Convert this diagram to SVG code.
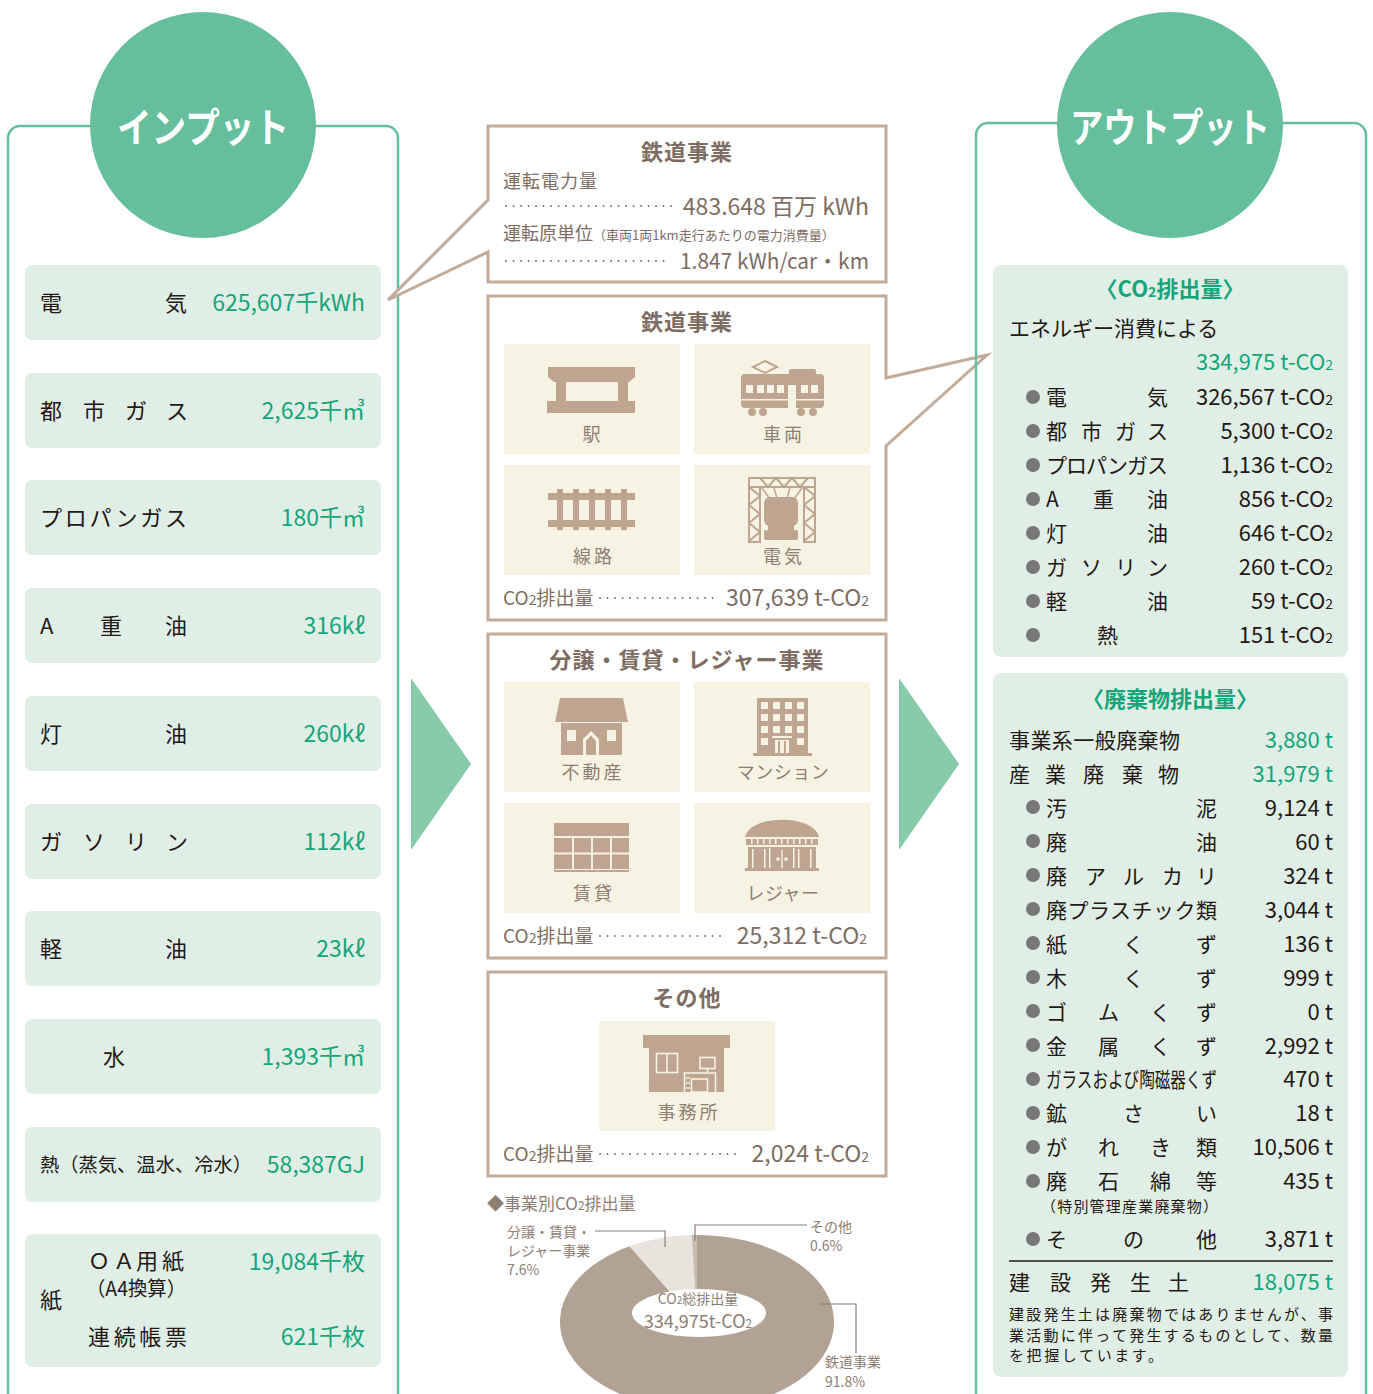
<svg xmlns="http://www.w3.org/2000/svg" width="1373" height="1394" viewBox="0 0 1373 1394">
<style>
text{font-family:"Noto Sans CJK JP","Noto Sans",sans-serif}
.lbl{font-size:22px;fill:#231815}
.lbs{font-size:20px;fill:#231815}
.lbh{font-size:19.5px;fill:#231815}
.val{font-size:23px;fill:#14a57a;text-anchor:end}
.box{fill:#e0efe6}
.frame{fill:none;stroke:#66bf9c;stroke-width:2.5}
.circ{fill:#66bf9c}
.big{font-size:40px;font-weight:bold;fill:#fff;text-anchor:middle}
.mbox{fill:#fff;stroke:#c2ab99;stroke-width:3}
.mt{font-size:22px;font-weight:bold;fill:#7d6d62;text-anchor:middle;letter-spacing:1px}
.ms{font-size:18px;fill:#7d6d62}
.mc{font-size:19px;fill:#7d6d62}
.mv{font-size:23px;fill:#7d6d62;text-anchor:end}
.mw{font-size:21.5px;fill:#7d6d62;text-anchor:end}
.tile{fill:#f7f3e3}
.tl{font-size:18px;fill:#8d7e72;text-anchor:middle;letter-spacing:3px}
.tk{font-size:18px;fill:#8d7e72;text-anchor:middle;letter-spacing:0.5px}
.ic{fill:#bfa590}
.icw{fill:#f7f3e3}
.ics{fill:none;stroke:#bfa590;stroke-width:2}
.dots{stroke:#7d6d62;stroke-width:1.8;stroke-dasharray:0.1 7.4;stroke-linecap:round}
.rl{font-size:21px;fill:#231815}
.rn{font-size:15px;fill:#231815}
.rt{font-size:15px;fill:#231815}
.rv{font-size:22px;fill:#231815;text-anchor:end}
.rg{font-size:22px;fill:#14a57a;text-anchor:end}
.rh{font-size:22px;font-weight:bold;fill:#14a57a;text-anchor:middle}
.bul{fill:#777}
.sub{font-size:14px}
.arrow{fill:#88cbaa}
.dl{font-size:14px;fill:#8d7e72}
.lead{fill:none;stroke:#8d7e72;stroke-width:1.2}
</style>

<!-- INPUT column -->
<g id="input-frame">
<rect class="frame" x="8" y="126" width="390" height="1300" rx="12"/>
<circle class="circ" cx="203" cy="125" r="113"/>
<text class="big" x="203" y="142" textLength="172" lengthAdjust="spacingAndGlyphs">インプット</text>
</g>
<g id="in-electric">
<rect class="box" x="25" y="265" width="356" height="75" rx="7"/>
<text class="lbl" x="40 165" y="311">電気</text>
<text class="val" x="365" y="311">625,607千kWh</text>
</g>
<g id="in-citygas">
<rect class="box" x="25" y="373" width="356" height="75" rx="7"/>
<text class="lbl" x="40 83 125 166" y="419">都市ガス</text>
<text class="val" x="365" y="419">2,625千㎥</text>
</g>
<g id="in-propane">
<rect class="box" x="25" y="480" width="356" height="75" rx="7"/>
<text class="lbl" x="40" y="526" textLength="147">プロパンガス</text>
<text class="val" x="365" y="526">180千㎥</text>
</g>
<g id="in-aoil">
<rect class="box" x="25" y="588" width="356" height="75" rx="7"/>
<text class="lbl" x="40 100 165" y="634">A重油</text>
<text class="val" x="365" y="634">316kℓ</text>
</g>
<g id="in-kerosene">
<rect class="box" x="25" y="696" width="356" height="75" rx="7"/>
<text class="lbl" x="40 165" y="742">灯油</text>
<text class="val" x="365" y="742">260kℓ</text>
</g>
<g id="in-gasoline">
<rect class="box" x="25" y="804" width="356" height="75" rx="7"/>
<text class="lbl" x="40 83 125 166" y="850">ガソリン</text>
<text class="val" x="365" y="850">112kℓ</text>
</g>
<g id="in-diesel">
<rect class="box" x="25" y="911" width="356" height="75" rx="7"/>
<text class="lbl" x="40 165" y="957">軽油</text>
<text class="val" x="365" y="957">23kℓ</text>
</g>
<g id="in-water">
<rect class="box" x="25" y="1019" width="356" height="75" rx="7"/>
<text class="lbl" x="103" y="1065">水</text>
<text class="val" x="365" y="1065">1,393千㎥</text>
</g>
<g id="in-heat">
<rect class="box" x="25" y="1127" width="356" height="75" rx="7"/>
<text class="lbh" x="40" y="1172" textLength="212" lengthAdjust="spacingAndGlyphs">熱（蒸気、温水、冷水）</text>
<text class="val" x="365" y="1173">58,387GJ</text>
</g>
<g id="in-paper">
<rect class="box" x="25" y="1234" width="356" height="133" rx="7"/>
<text class="lbl" x="40" y="1308">紙</text>
<text class="lbl" x="88 113 136 162" y="1269">ＯＡ用紙</text>
<text class="lbs" x="86" y="1296" textLength="100" lengthAdjust="spacingAndGlyphs">（A4換算）</text>
<text class="lbl" x="88" y="1345" textLength="99">連続帳票</text>
<text class="val" x="365" y="1270">19,084千枚</text>
<text class="val" x="365" y="1345">621千枚</text>
</g>

<!-- arrows between columns -->
<g id="connectors">
<polygon class="arrow" points="411,678 471,764 411,850"/>
<polygon class="arrow" points="899,678 959,764 899,850"/>
</g>

<!-- Middle: rail power box with callout -->
<g id="mid-rail-power">
<path class="mbox" d="M488,200 L388,300 L488,252 L488,282 L886,282 L886,126 L488,126 Z"/>
<text class="mt" x="687" y="160">鉄道事業</text>
<text class="ms" x="503" y="188" style="letter-spacing:1px">運転電力量</text>
<line class="dots" x1="506" y1="206" x2="672" y2="206"/>
<text class="mv" x="869" y="215">483.648 百万 kWh</text>
<text class="ms" x="503" y="240">運転原単位<tspan font-size="13">（車両1両1km走行あたりの電力消費量）</tspan></text>
<line class="dots" x1="506" y1="261" x2="664" y2="261"/>
<text class="mw" x="869" y="269" textLength="189" lengthAdjust="spacingAndGlyphs">1.847 kWh/car・km</text>
</g>

<!-- Middle: rail business -->
<g id="mid-rail">
<path class="mbox" d="M886,378 L987,355 L886,446 L886,620 L488,620 L488,296 L886,296 Z"/>
<text class="mt" x="687" y="330">鉄道事業</text>
<rect class="tile" x="504" y="344" width="176" height="110"/>
<rect class="tile" x="694" y="344" width="176" height="110"/>
<rect class="tile" x="504" y="465" width="176" height="110"/>
<rect class="tile" x="694" y="465" width="176" height="110"/>
<!-- station -->
<polygon class="ic" points="548,367 635,367 635,377 629,382 554,382 548,377"/>
<rect class="ic" x="556" y="381" width="10" height="21"/>
<rect class="ic" x="618" y="381" width="10" height="21"/>
<rect class="ic" x="547" y="401" width="88" height="12"/>
<!-- train -->
<polygon class="ics" points="765,361 777,367 765,373 753,367"/>
<rect class="ic" x="789" y="369" width="27" height="7" rx="2"/>
<rect class="ic" x="741" y="374" width="83" height="34" rx="4"/>
<rect class="icw" x="746" y="385" width="7" height="8"/>
<rect class="icw" x="757" y="385" width="7" height="8"/>
<rect class="icw" x="767" y="385" width="7" height="8"/>
<rect class="icw" x="777" y="385" width="7" height="8"/>
<rect class="icw" x="788" y="385" width="8" height="23"/>
<rect class="icw" x="801" y="385" width="7" height="8"/>
<rect class="icw" x="811" y="385" width="7" height="8"/>
<rect class="icw" x="741" y="399" width="83" height="1.5"/>
<circle class="ic" cx="752" cy="412" r="4"/>
<circle class="ic" cx="763" cy="412" r="4"/>
<circle class="ic" cx="801" cy="412" r="4"/>
<circle class="ic" cx="813" cy="412" r="4"/>
<!-- track -->
<rect class="ic" x="548" y="493" width="87" height="7"/>
<rect class="ic" x="548" y="520" width="87" height="7"/>
<rect class="ic" x="557" y="489" width="6" height="41"/>
<rect class="ic" x="573" y="489" width="6" height="41"/>
<rect class="ic" x="589" y="489" width="6" height="41"/>
<rect class="ic" x="605" y="489" width="6" height="41"/>
<rect class="ic" x="621" y="489" width="6" height="41"/>
<!-- electric -->
<rect class="ics" x="749" y="478" width="66" height="9"/>
<rect class="ics" x="749" y="487" width="11" height="55"/>
<rect class="ics" x="804" y="487" width="11" height="55"/>
<polyline class="ics" points="749,487 760,496 749,505 760,514 749,523 760,532 749,541"/>
<polyline class="ics" points="804,487 815,496 804,505 815,514 804,523 815,532 804,541"/>
<polyline class="ics" points="760,478 768,487 776,478 784,487 792,478 800,487 808,478"/>
<line class="ics" x1="762" y1="488" x2="770" y2="499" style="stroke-width:1.5"/>
<line class="ics" x1="774" y1="488" x2="777" y2="498" style="stroke-width:1.5"/>
<line class="ics" x1="790" y1="488" x2="787" y2="498" style="stroke-width:1.5"/>
<line class="ics" x1="802" y1="488" x2="794" y2="499" style="stroke-width:1.5"/>
<rect class="ic" x="764" y="497" width="34" height="29" rx="6"/>
<rect class="ic" x="768" y="524" width="26" height="7"/>
<rect class="ic" x="764" y="530" width="34" height="10" rx="2"/>
<text class="tl" x="593" y="441">駅</text>
<text class="tl" x="784" y="441">車両</text>
<text class="tl" x="594" y="563">線路</text>
<text class="tl" x="784" y="563">電気</text>
<text class="mc" x="503" y="605">CO<tspan class="sub">2</tspan>排出量</text>
<line class="dots" x1="600" y1="598" x2="716" y2="598"/>
<text class="mv" x="869" y="606">307,639 t-CO<tspan class="sub">2</tspan></text>
</g>

<!-- Middle: real estate / leisure -->
<g id="mid-realestate">
<rect class="mbox" x="488" y="634" width="398" height="324"/>
<text class="mt" x="687" y="668">分譲・賃貸・レジャー事業</text>
<rect class="tile" x="504" y="682" width="176" height="110"/>
<rect class="tile" x="694" y="682" width="176" height="110"/>
<rect class="tile" x="504" y="803" width="176" height="110"/>
<rect class="tile" x="694" y="803" width="176" height="110"/>
<!-- house -->
<polygon class="ic" points="560,698 623,698 628,722 555,722"/>
<rect class="ic" x="561" y="723" width="61" height="32"/>
<rect class="icw" x="567" y="730" width="9" height="11"/>
<rect class="icw" x="607" y="730" width="9" height="11"/>
<path class="icw" d="M583,755 L583,739 L591,731 L599,739 L599,755 L596,755 L596,741 L591,735.5 L586,741 L586,755 Z"/>
<!-- mansion -->
<rect class="ic" x="757" y="698" width="51" height="56"/>
<rect class="ic" x="753" y="753" width="59" height="3"/>
<g class="icw">
<rect x="761" y="702" width="7" height="7"/><rect x="773" y="702" width="7" height="7"/><rect x="785" y="702" width="7" height="7"/><rect x="797" y="702" width="7" height="7"/>
<rect x="761" y="714" width="7" height="7"/><rect x="773" y="714" width="7" height="7"/><rect x="785" y="714" width="7" height="7"/><rect x="797" y="714" width="7" height="7"/>
<rect x="761" y="726" width="7" height="7"/><rect x="773" y="726" width="7" height="7"/><rect x="785" y="726" width="7" height="7"/><rect x="797" y="726" width="7" height="7"/>
<rect x="761" y="738" width="7" height="7"/><rect x="797" y="738" width="7" height="7"/>
<rect x="772" y="736" width="20" height="2"/>
<rect x="775" y="740" width="14" height="13"/>
</g>
<rect class="ic" x="778" y="741" width="2" height="12"/>
<rect class="ic" x="784" y="741" width="2" height="12"/>
<!-- rental -->
<rect class="ic" x="554" y="823" width="75" height="13"/>
<rect class="ic" x="554" y="838" width="75" height="31"/>
<rect class="icw" x="572" y="838" width="2" height="31"/>
<rect class="icw" x="591" y="838" width="2" height="31"/>
<rect class="icw" x="610" y="838" width="2" height="31"/>
<rect class="icw" x="554" y="852.5" width="75" height="2"/>
<rect class="ic" x="554" y="870" width="75" height="2"/>
<!-- leisure -->
<path class="ic" d="M745,837 C750,814 814,814 819,837 Z"/>
<rect class="ic" x="746" y="839" width="72" height="6"/>
<g class="icw">
<rect x="751" y="839" width="1.5" height="5"/><rect x="757" y="839" width="1.5" height="5"/><rect x="763" y="839" width="1.5" height="5"/><rect x="769" y="839" width="1.5" height="5"/><rect x="775" y="839" width="1.5" height="5"/><rect x="781" y="839" width="1.5" height="5"/><rect x="787" y="839" width="1.5" height="5"/><rect x="793" y="839" width="1.5" height="5"/><rect x="799" y="839" width="1.5" height="5"/><rect x="805" y="839" width="1.5" height="5"/><rect x="811" y="839" width="1.5" height="5"/>
</g>
<rect class="ic" x="748" y="847" width="68" height="21"/>
<g class="icw">
<rect x="752" y="849" width="1.5" height="19"/><rect x="764" y="849" width="1.5" height="19"/><rect x="798" y="849" width="1.5" height="19"/><rect x="810" y="849" width="1.5" height="19"/>
<rect x="769" y="848" width="1.5" height="20"/><rect x="793" y="848" width="1.5" height="20"/>
<rect x="781.3" y="850" width="1.4" height="18"/>
</g>
<circle cx="778" cy="859" r="1.8" fill="#f7f3e3"/>
<circle cx="786" cy="859" r="1.8" fill="#f7f3e3"/>
<rect class="ic" x="745" y="868" width="74" height="3"/>
<text class="tl" x="593" y="779">不動産</text>
<text class="tk" x="783" y="779">マンション</text>
<text class="tl" x="594" y="900">賃貸</text>
<text class="tk" x="783" y="900">レジャー</text>
<text class="mc" x="503" y="943">CO<tspan class="sub">2</tspan>排出量</text>
<line class="dots" x1="600" y1="936" x2="724" y2="936"/>
<text class="mv" x="867" y="944">25,312 t-CO<tspan class="sub">2</tspan></text>
</g>

<!-- Middle: other -->
<g id="mid-other">
<rect class="mbox" x="488" y="972" width="398" height="204"/>
<text class="mt" x="687" y="1006">その他</text>
<rect class="tile" x="599" y="1021" width="176" height="110"/>
<rect class="ic" x="643" y="1035" width="87" height="13"/>
<rect class="ic" x="649" y="1048" width="75" height="44"/>
<rect x="656.5" y="1053.5" width="21" height="19" fill="none" stroke="#f7f3e3" stroke-width="1.6"/>
<line x1="667" y1="1053.5" x2="667" y2="1072.5" stroke="#f7f3e3" stroke-width="1.6"/>
<rect x="700" y="1057.5" width="15" height="11" fill="none" stroke="#f7f3e3" stroke-width="1.6"/>
<line x1="707.5" y1="1068.5" x2="707.5" y2="1072" stroke="#f7f3e3" stroke-width="1.6"/>
<path d="M684.5,1092 L684.5,1073 L715.5,1073 L715.5,1092" fill="none" stroke="#f7f3e3" stroke-width="1.6"/>
<rect x="691.5" y="1079" width="16" height="13" fill="none" stroke="#f7f3e3" stroke-width="1.6"/>
<line x1="686" y1="1078" x2="690" y2="1078" stroke="#f7f3e3" stroke-width="1.4"/>
<line x1="686" y1="1083" x2="690" y2="1083" stroke="#f7f3e3" stroke-width="1.4"/>
<line x1="686" y1="1088" x2="690" y2="1088" stroke="#f7f3e3" stroke-width="1.4"/>
<text class="tl" x="689" y="1119">事務所</text>
<text class="mc" x="503" y="1161">CO<tspan class="sub">2</tspan>排出量</text>
<line class="dots" x1="600" y1="1154" x2="741" y2="1154"/>
<text class="mv" x="869" y="1162">2,024 t-CO<tspan class="sub">2</tspan></text>
</g>

<!-- Donut chart -->
<g id="donut">
<text x="487" y="1210" font-size="17" fill="#8d7e72">◆事業別CO<tspan font-size="12">2</tspan>排出量</text>
<path d="M697,1322 L697,1235 A137,87 0 1 1 629.5,1246.3 Z" fill="#b2a293"/>
<path d="M697,1322 L629.5,1246.3 A137,87 0 0 1 691.8,1235.06 Z" fill="#e8e3dd"/>
<path d="M697,1322 L691.8,1235.06 A137,87 0 0 1 697,1235 Z" fill="#c8bcb0"/>
<ellipse cx="699" cy="1313" rx="67" ry="24" fill="#fff"/>
<text x="698" y="1304" font-size="14" fill="#8d7e72" text-anchor="middle">CO<tspan font-size="10">2</tspan>総排出量</text>
<text x="698" y="1328" font-size="18" fill="#8d7e72" text-anchor="middle">334,975t-CO<tspan font-size="12">2</tspan></text>
<polyline class="lead" points="595,1231 665,1231 665,1247"/>
<polyline class="lead" points="695,1241 695,1225 807,1225"/>
<polyline class="lead" points="820,1304 856,1304 856,1353"/>
<text class="dl"><tspan x="507" y="1237">分譲・賃貸・</tspan><tspan x="507" y="1256">レジャー事業</tspan><tspan x="507" y="1275">7.6%</tspan></text>
<text class="dl"><tspan x="810" y="1232">その他</tspan><tspan x="810" y="1251">0.6%</tspan></text>
<text class="dl"><tspan x="825" y="1367">鉄道事業</tspan><tspan x="825" y="1387">91.8%</tspan></text>
</g>

<!-- OUTPUT column -->
<g id="output-frame">
<rect class="frame" x="976" y="123" width="390" height="1300" rx="12"/>
<circle class="circ" cx="1170" cy="125" r="113"/>
<text class="big" x="1170" y="142" textLength="200" lengthAdjust="spacingAndGlyphs">アウトプット</text>
</g>

<g id="out-co2">
<rect class="box" x="993" y="265" width="355" height="392" rx="8"/>
<text class="rh" x="1170" y="297">〈CO<tspan class="sub">2</tspan>排出量〉</text>
<text class="rl" x="1009" y="336">エネルギー消費による</text>
<text class="rg" x="1333" y="370">334,975 t-CO<tspan class="sub">2</tspan></text>
<circle class="bul" cx="1033" cy="397" r="7"/>
<text class="rl" x="1046 1147" y="405">電気</text>
<text class="rv" x="1333" y="405">326,567 t-CO<tspan class="sub">2</tspan></text>
<circle class="bul" cx="1033" cy="431" r="7"/>
<text class="rl" x="1046 1081 1115 1147" y="439">都市ガス</text>
<text class="rv" x="1333" y="439">5,300 t-CO<tspan class="sub">2</tspan></text>
<circle class="bul" cx="1033" cy="465" r="7"/>
<text class="rl" x="1046" y="473" textLength="122">プロパンガス</text>
<text class="rv" x="1333" y="473">1,136 t-CO<tspan class="sub">2</tspan></text>
<circle class="bul" cx="1033" cy="499" r="7"/>
<text class="rl" x="1046 1093 1147" y="507">A重油</text>
<text class="rv" x="1333" y="507">856 t-CO<tspan class="sub">2</tspan></text>
<circle class="bul" cx="1033" cy="533" r="7"/>
<text class="rl" x="1046 1147" y="541">灯油</text>
<text class="rv" x="1333" y="541">646 t-CO<tspan class="sub">2</tspan></text>
<circle class="bul" cx="1033" cy="567" r="7"/>
<text class="rl" x="1046 1081 1115 1147" y="575">ガソリン</text>
<text class="rv" x="1333" y="575">260 t-CO<tspan class="sub">2</tspan></text>
<circle class="bul" cx="1033" cy="601" r="7"/>
<text class="rl" x="1046 1147" y="609">軽油</text>
<text class="rv" x="1333" y="609">59 t-CO<tspan class="sub">2</tspan></text>
<circle class="bul" cx="1033" cy="635" r="7"/>
<text class="rl" x="1097" y="643">熱</text>
<text class="rv" x="1333" y="643">151 t-CO<tspan class="sub">2</tspan></text>
</g>

<g id="out-waste">
<rect class="box" x="993" y="673" width="355" height="704" rx="8"/>
<text class="rh" x="1170" y="707">〈廃棄物排出量〉</text>
<text class="rl" x="1009" y="748" textLength="171">事業系一般廃棄物</text>
<text class="rg" x="1333" y="748">3,880 t</text>
<text class="rl" x="1009 1045 1083 1122 1158" y="782">産業廃棄物</text>
<text class="rg" x="1333" y="782">31,979 t</text>
<circle class="bul" cx="1033" cy="807" r="7"/>
<text class="rl" x="1046 1196" y="816">汚泥</text>
<text class="rv" x="1333" y="816">9,124 t</text>
<circle class="bul" cx="1033" cy="841" r="7"/>
<text class="rl" x="1046 1196" y="850">廃油</text>
<text class="rv" x="1333" y="850">60 t</text>
<circle class="bul" cx="1033" cy="875" r="7"/>
<text class="rl" x="1046 1085 1123 1162 1196" y="884">廃アルカリ</text>
<text class="rv" x="1333" y="884">324 t</text>
<circle class="bul" cx="1033" cy="909" r="7"/>
<text class="rl" x="1046" y="918" textLength="171">廃プラスチック類</text>
<text class="rv" x="1333" y="918">3,044 t</text>
<circle class="bul" cx="1033" cy="943" r="7"/>
<text class="rl" x="1046 1123 1196" y="952">紙くず</text>
<text class="rv" x="1333" y="952">136 t</text>
<circle class="bul" cx="1033" cy="977" r="7"/>
<text class="rl" x="1046 1123 1196" y="986">木くず</text>
<text class="rv" x="1333" y="986">999 t</text>
<circle class="bul" cx="1033" cy="1011" r="7"/>
<text class="rl" x="1046 1098 1150 1196" y="1020">ゴムくず</text>
<text class="rv" x="1333" y="1020">0 t</text>
<circle class="bul" cx="1033" cy="1045" r="7"/>
<text class="rl" x="1046 1098 1150 1196" y="1054">金属くず</text>
<text class="rv" x="1333" y="1054">2,992 t</text>
<circle class="bul" cx="1033" cy="1079" r="7"/>
<text class="rl" x="1046" y="1087" textLength="171" lengthAdjust="spacingAndGlyphs">ガラスおよび陶磁器くず</text>
<text class="rv" x="1333" y="1087">470 t</text>
<circle class="bul" cx="1033" cy="1113" r="7"/>
<text class="rl" x="1046 1123 1196" y="1121">鉱さい</text>
<text class="rv" x="1333" y="1121">18 t</text>
<circle class="bul" cx="1033" cy="1147" r="7"/>
<text class="rl" x="1046 1098 1150 1196" y="1155">がれき類</text>
<text class="rv" x="1333" y="1155">10,506 t</text>
<circle class="bul" cx="1033" cy="1181" r="7"/>
<text class="rl" x="1046 1098 1150 1196" y="1189">廃石綿等</text>
<text class="rn" x="1041" y="1212" textLength="177">（特別管理産業廃棄物）</text>
<text class="rv" x="1333" y="1189">435 t</text>
<circle class="bul" cx="1033" cy="1239" r="7"/>
<text class="rl" x="1046 1123 1196" y="1247">その他</text>
<text class="rv" x="1333" y="1247">3,871 t</text>
<line x1="1009" y1="1261" x2="1333" y2="1261" stroke="#231815" stroke-width="1.5"/>
<text class="rl" x="1009 1050 1090 1130 1168" y="1290">建設発生土</text>
<text class="rg" x="1333" y="1290">18,075 t</text>
<text class="rt" x="1009" y="1320" textLength="324">建設発生土は廃棄物ではありませんが、事</text>
<text class="rt" x="1009" y="1340.5" textLength="324">業活動に伴って発生するものとして、数量</text>
<text class="rt" x="1009" y="1361" textLength="154">を把握しています。</text>
</g>
</svg>
